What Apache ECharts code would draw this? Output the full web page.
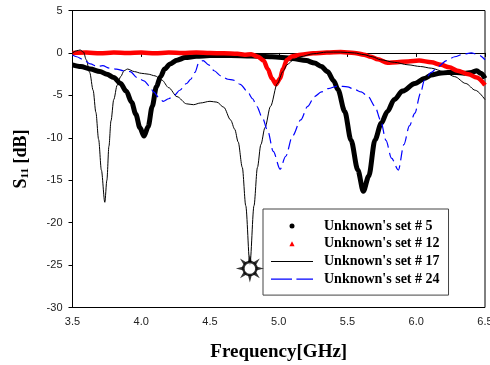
<!DOCTYPE html>
<html>
<head>
<meta charset="utf-8">
<script src="https://cdn.jsdelivr.net/npm/echarts@6/dist/echarts.min.js"></script>
<style>
html,body{margin:0;padding:0;background:#fff;}
#c{width:490px;height:365px;}
</style>
</head>
<body>
<div id="c"></div>
<script>
// ---- data ----
var seriesNames = ["Unknown's set # 5", "Unknown's set # 12", "Unknown's set # 17", "Unknown's set # 24"];

var f5 = [3.5, 3.56, 3.63, 3.7, 3.75, 3.8, 3.85, 3.89, 3.93, 3.96, 3.99, 4.02, 4.05, 4.08, 4.11, 4.14, 4.17, 4.21, 4.26, 4.32, 4.4, 4.5, 4.65, 4.8, 4.95, 5.1, 5.2, 5.26, 5.31, 5.355, 5.4, 5.43, 5.48, 5.525, 5.575, 5.615, 5.655, 5.7, 5.745, 5.79, 5.84, 5.9, 5.99, 6.06, 6.11, 6.17, 6.23, 6.29, 6.35, 6.4, 6.44, 6.47, 6.5];
var v5 = [-1.4, -1.6, -1.9, -2.2, -2.5, -2.9, -3.6, -4.5, -5.8, -7.2, -8.8, -9.8, -8.7, -6.3, -4.0, -2.8, -1.9, -1.3, -0.85, -0.55, -0.4, -0.3, -0.3, -0.35, -0.45, -0.65, -0.9, -1.2, -1.6, -2.2, -3.3, -4.3, -6.9, -10.25, -13.8, -16.3, -14.5, -10.25, -8.3, -6.9, -5.5, -4.5, -3.6, -3.0, -2.6, -2.4, -2.3, -2.3, -2.4, -2.3, -2.1, -2.4, -3.0];

var f12 = [3.5, 3.6, 3.7, 3.8, 3.9, 4.0, 4.1, 4.2, 4.3, 4.4, 4.5, 4.6, 4.7, 4.75, 4.8, 4.85, 4.89, 4.92, 4.95, 4.98, 5.01, 5.03, 5.06, 5.1, 5.16, 5.25, 5.35, 5.45, 5.55, 5.62, 5.67, 5.72, 5.79, 5.86, 5.94, 6.02, 6.11, 6.18, 6.24, 6.3, 6.38, 6.44, 6.5];
var v12 = [0.0, 0.05, -0.05, 0.05, 0.0, 0.05, -0.05, 0.05, 0.0, 0.05, 0.0, -0.05, -0.1, -0.2, -0.15, -0.45, -0.9, -1.9, -3.0, -3.7, -3.0, -1.9, -0.8, -0.4, -0.2, -0.05, 0.05, 0.1, 0.0, -0.2, -0.45, -0.75, -1.15, -1.1, -1.0, -0.9, -1.1, -1.4, -1.7, -2.1, -2.5, -2.9, -3.8];

var f17 = [3.5, 3.53, 3.555, 3.58, 3.6, 3.625, 3.65, 3.67, 3.69, 3.71, 3.735, 3.75, 3.765, 3.78, 3.8, 3.825, 3.85, 3.875, 3.9, 3.95, 4.0, 4.05, 4.1, 4.15, 4.2, 4.26, 4.33, 4.38, 4.43, 4.5, 4.55, 4.6, 4.65, 4.68, 4.705, 4.735, 4.76, 4.79, 4.82, 4.845, 4.87, 4.9, 4.94, 4.99, 5.03, 5.06, 5.1, 5.16, 5.25, 5.35, 5.45, 5.55, 5.62, 5.68, 5.74, 5.84, 5.94, 6.03, 6.11, 6.2, 6.28, 6.36, 6.43, 6.5];
var v17 = [0.0, 0.25, 0.35, 0.1, -0.8, -2.3, -4.4, -7.0, -10.2, -13.8, -17.6, -15.0, -11.0, -8.0, -5.5, -3.8, -2.8, -2.1, -1.9, -2.2, -2.4, -2.5, -2.7, -3.2, -4.1, -5.15, -6.0, -6.1, -5.9, -5.7, -5.8, -6.4, -7.9, -9.0, -10.5, -13.5, -18.0, -25.0, -18.0, -13.5, -10.8, -8.8, -6.3, -3.6, -2.2, -1.4, -0.9, -0.44, -0.1, 0.1, 0.1, 0.0, -0.2, -0.45, -0.8, -1.1, -1.4, -1.6, -1.8, -2.2, -2.8, -3.6, -4.4, -5.5];

var f24 = [3.5, 3.53, 3.58, 3.63, 3.68, 3.72, 3.77, 3.82, 3.87, 3.92, 3.97, 4.02, 4.06, 4.09, 4.13, 4.16, 4.2, 4.24, 4.28, 4.33, 4.36, 4.39, 4.42, 4.45, 4.49, 4.53, 4.58, 4.63, 4.67, 4.72, 4.77, 4.81, 4.84, 4.88, 4.92, 4.96, 5.01, 5.05, 5.1, 5.16, 5.21, 5.26, 5.31, 5.36, 5.43, 5.5, 5.55, 5.6, 5.65, 5.7, 5.74, 5.78, 5.82, 5.87, 5.91, 5.95, 5.99, 6.03, 6.06, 6.11, 6.16, 6.22, 6.28, 6.34, 6.4, 6.45, 6.5];
var v24 = [-0.25, -0.45, -0.8, -1.3, -1.6, -1.5, -1.8, -1.9, -2.1, -2.2, -2.9, -3.3, -3.9, -4.6, -5.3, -5.7, -5.4, -5.0, -4.4, -3.6, -3.1, -2.3, -1.1, -0.9, -1.4, -2.1, -2.7, -3.1, -3.2, -3.7, -4.5, -5.4, -6.3, -7.6, -9.2, -11.6, -13.7, -12.2, -9.8, -7.9, -6.3, -5.15, -4.6, -4.2, -3.9, -4.0, -4.3, -4.6, -5.15, -6.3, -7.9, -10.3, -12.4, -13.8, -10.8, -8.6, -7.1, -4.8, -3.2, -2.3, -1.6, -0.9, -0.45, -0.15, 0.0, -0.2, -0.8];

var markerPoint = [4.79, -25.4];

var xTicks = {min: 3.5, max: 6.5, step: 0.5};
var yTicks = {min: -30, max: 5, step: 5};

// ---- helpers ----
function pairs(xs, ys) { return xs.map(function (x, i) { return [x, ys[i]]; }); }

function sunPath() {
  var c = 14, parts = [];
  for (var k = 0; k < 8; k++) {
    var a = k * Math.PI / 4;
    var tx = c + 14 * Math.sin(a), ty = c - 14 * Math.cos(a);
    var b1x = c + 6 * Math.sin(a - 0.38), b1y = c - 6 * Math.cos(a - 0.38);
    var b2x = c + 6 * Math.sin(a + 0.38), b2y = c - 6 * Math.cos(a + 0.38);
    parts.push('M' + tx.toFixed(2) + ',' + ty.toFixed(2) + 'L' + b1x.toFixed(2) + ',' + b1y.toFixed(2) + 'L' + b2x.toFixed(2) + ',' + b2y.toFixed(2) + 'Z');
  }
  return 'path://' + parts.join('');
}

var serif = 'Liberation Serif';
var sans = 'Liberation Sans';

var chart = echarts.init(document.getElementById('c'), null, {renderer: 'canvas'});
chart.setOption({
  animation: false,
  backgroundColor: '#fff',
  grid: {left: 72.5, right: 5, top: 10.5, bottom: 57.5, containLabel: false, outerBoundsMode: 'none',
         show: true, borderColor: '#000', borderWidth: 1, backgroundColor: 'transparent'},
  xAxis: {
    type: 'value', min: xTicks.min, max: xTicks.max, interval: xTicks.step,
    axisLine: {show: true, lineStyle: {color: '#000', width: 1}},
    axisTick: {show: true, inside: false, length: 4, lineStyle: {color: '#000'}},
    splitLine: {show: false},
    axisLabel: {margin: 9, color: '#222', fontFamily: sans, fontSize: 11, formatter: function (v) { return v.toFixed(1); }},
    name: 'Frequency[GHz]', nameLocation: 'middle', nameGap: 35,
    nameTextStyle: {fontFamily: serif, fontWeight: 'bold', fontSize: 19, color: '#000'}
  },
  yAxis: {
    type: 'value', min: yTicks.min, max: yTicks.max, interval: yTicks.step,
    axisLine: {show: true, lineStyle: {color: '#000', width: 1}},
    axisTick: {show: true, inside: false, length: 4, lineStyle: {color: '#000'}},
    splitLine: {show: false},
    axisLabel: {margin: 10, color: '#222', fontFamily: sans, fontSize: 11},
    name: '{a|S}{b|11}{a| [dB]}', nameLocation: 'middle', nameGap: 42,
    nameTextStyle: {
      color: '#000',
      rich: {
        a: {fontFamily: serif, fontWeight: 'bold', fontSize: 18, color: '#000', verticalAlign: 'bottom', lineHeight: 20},
        b: {fontFamily: serif, fontWeight: 'bold', fontSize: 11, color: '#000', verticalAlign: 'bottom', lineHeight: 15}
      }
    }
  },
  legend: {
    orient: 'vertical', left: 263, top: 209,
    padding: [10, 9, 9, 8],
    itemWidth: 42, itemHeight: 5, itemGap: 3.7,
    symbolKeepAspect: true,
    selectedMode: false,
    backgroundColor: '#fff', borderColor: '#444', borderWidth: 1,
    textStyle: {fontFamily: serif, fontWeight: 'bold', fontSize: 14, color: '#000', lineHeight: 14, padding: [0, 0, 0, 6]},
    data: [
      {name: seriesNames[0], icon: 'circle', itemStyle: {color: '#000', borderWidth: 0}},
      {name: seriesNames[1], icon: 'path://M0,5L2.6,0L5.2,5Z', itemStyle: {color: '#ff0000', borderWidth: 0}},
      {name: seriesNames[2], icon: 'path://M0,0H42V1H0Z', itemStyle: {color: '#000', borderWidth: 0}},
      {name: seriesNames[3], icon: 'path://M0,0H19V1.2H0Z M23,0H38V1.2H23Z', itemStyle: {color: '#0000ff', borderWidth: 0}}
    ]
  },
  series: [
    {name: seriesNames[0], type: 'line', data: pairs(f5, v5), symbol: 'none', smooth: 0.3, smoothMonotone: 'x',
     lineStyle: {color: '#000', width: 5}, itemStyle: {color: '#000'}},
    {name: seriesNames[1], type: 'line', data: pairs(f12, v12), symbol: 'none', smooth: 0.3, smoothMonotone: 'x',
     lineStyle: {color: '#ff0000', width: 4.5}, itemStyle: {color: '#ff0000'}},
    {name: seriesNames[2], type: 'line', data: pairs(f17, v17), symbol: 'none', smooth: 0.3, smoothMonotone: 'x',
     lineStyle: {color: '#000', width: 1}, itemStyle: {color: '#000'}},
    {name: seriesNames[3], type: 'line', data: pairs(f24, v24), symbol: 'none', smooth: 0.3, smoothMonotone: 'x',
     lineStyle: {color: '#0000ff', width: 1.2, type: [10, 5]}, itemStyle: {color: '#0000ff'}},
    {name: 'marker-spikes', type: 'scatter', data: [markerPoint], symbol: sunPath(), symbolSize: 28, symbolKeepAspect: true,
     itemStyle: {color: '#000'}, z: 5, silent: true},
    {name: 'marker-ring', type: 'scatter', data: [markerPoint], symbol: 'circle', symbolSize: 13,
     itemStyle: {color: '#fff', borderColor: '#000', borderWidth: 2.5}, z: 6, silent: true}
  ]
});
</script>
</body>
</html>
